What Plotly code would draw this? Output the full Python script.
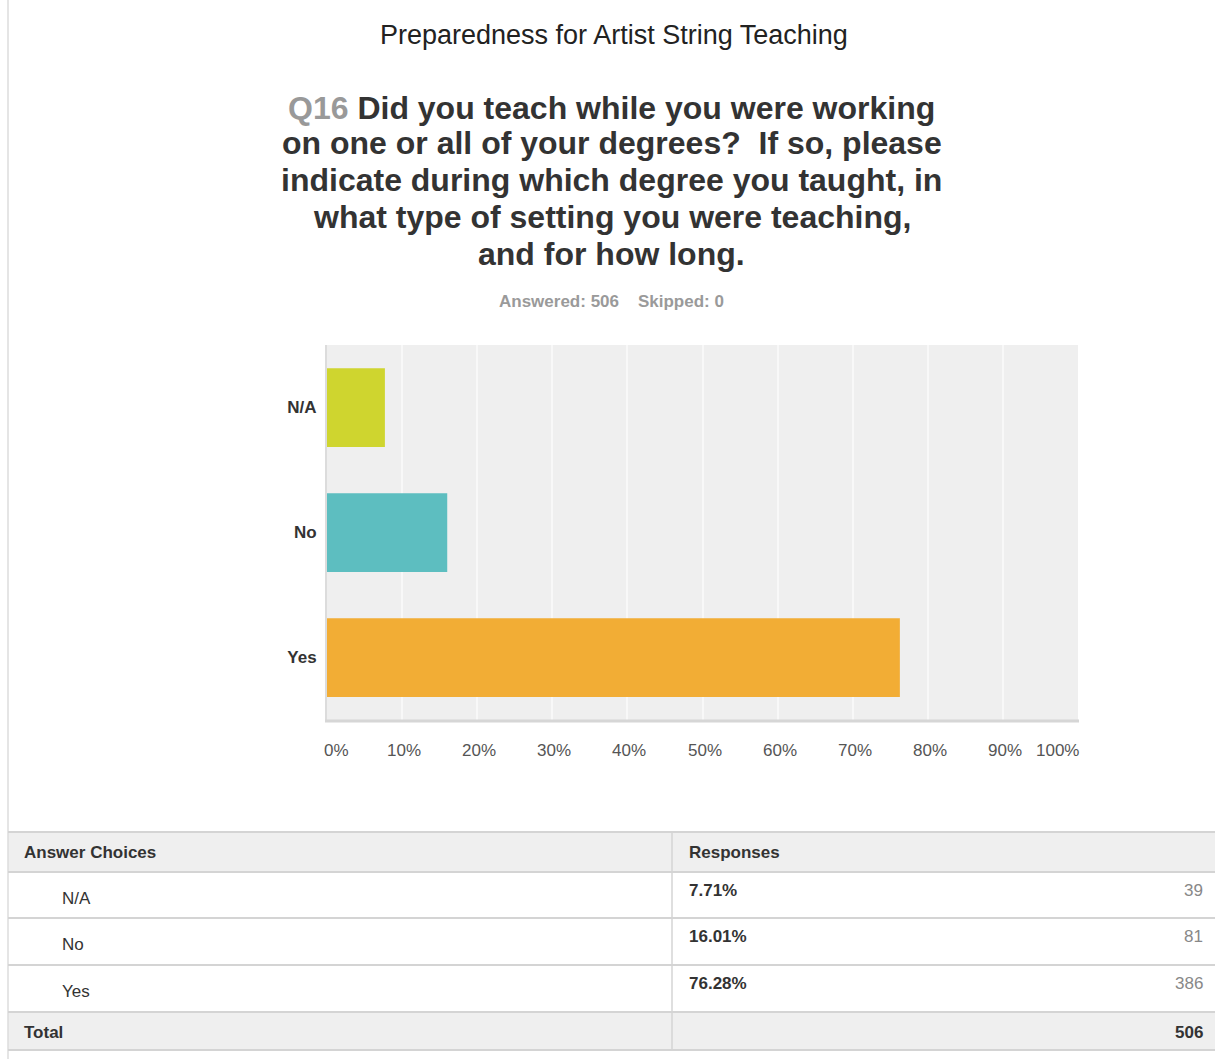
import plotly.graph_objects as go

# Survey results: Q16, teaching while working on a degree
categories = ["N/A", "No", "Yes"]
percentages = [7.71, 16.01, 76.28]
counts = [39, 81, 386]
total_answered = 506
total_skipped = 0
x_ticks = [0, 10, 20, 30, 40, 50, 60, 70, 80, 90, 100]
bar_colors = ["#cfd52f", "#5dbec0", "#f2ad35"]

W, H = 1215, 1059
FONT = "Liberation Sans"


def px(x):
    return x / W


def py(y):
    return 1 - y / H


fig = go.Figure()

fig.add_trace(go.Bar(
    x=percentages,
    y=categories,
    orientation="h",
    width=0.63,
    marker=dict(color=bar_colors, line=dict(width=0)),
    hoverinfo="x+y",
))

fig.update_layout(
    width=W,
    height=H,
    margin=dict(l=0, r=0, t=0, b=0),
    paper_bgcolor="white",
    plot_bgcolor="#efefef",
    showlegend=False,
    font=dict(family=FONT, color="#333"),
    xaxis=dict(
        domain=[px(327), px(1078)],
        range=[0, 100],
        tickvals=x_ticks,
        showticklabels=False,
        showgrid=True,
        gridcolor="#f8f8f8",
        gridwidth=1.5,
        zeroline=False,
        showline=False,
        fixedrange=True,
    ),
    yaxis=dict(
        domain=[py(720), py(345)],
        categoryorder="array",
        categoryarray=categories,
        autorange="reversed",
        showgrid=False,
        zeroline=False,
        showline=False,
        ticks="outside",
        ticklen=6,
        tickcolor="rgba(0,0,0,0)",
        tickfont=dict(family=FONT, size=17, color="#333", weight="bold"),
        fixedrange=True,
    ),
)

shapes = []
annotations = []

# Axis frame: light gray left edge and heavier bottom edge of the plot area
shapes.append(dict(type="line", xref="paper", yref="paper",
                   x0=px(326), x1=px(326), y0=py(721), y1=py(345),
                   line=dict(color="#dcdcdc", width=2)))
shapes.append(dict(type="line", xref="paper", yref="paper",
                   x0=px(325), x1=px(1079), y0=py(721), y1=py(721),
                   line=dict(color="#d6d6d6", width=3)))

# Percent tick labels under the plot
shift = {0: 9, 100: -21}
for v in x_ticks:
    annotations.append(dict(
        x=v, xref="x", y=py(750), yref="paper",
        text=f"{v}%", showarrow=False, xanchor="center", yanchor="middle",
        xshift=shift.get(v, 2),
        font=dict(family=FONT, size=17, color="#555"),
    ))

# Page left rule
shapes.append(dict(type="line", xref="paper", yref="paper",
                   x0=px(8), x1=px(8), y0=0, y1=1,
                   line=dict(color="#dddddd", width=1.5)))

# Titles
annotations.append(dict(
    x=px(614), y=py(35), xref="paper", yref="paper",
    text="Preparedness for Artist String Teaching", showarrow=False,
    xanchor="center", yanchor="middle",
    font=dict(family=FONT, size=27, color="#222"),
))

question_lines = [
    "<span style='color:#999'>Q16</span> Did you teach while you were working",
    "on one or all of your degrees?  If so, please",
    "indicate during which degree you taught, in",
    "what type of setting you were teaching,",
    "and for how long.",
]
line_y = [108, 143, 180, 217, 254]
for txt, yy in zip(question_lines, line_y):
    annotations.append(dict(
        x=px(612), y=py(yy), xref="paper", yref="paper",
        text=f"<b>{txt}</b>", showarrow=False,
        xanchor="center", yanchor="middle",
        font=dict(family=FONT, size=32, color="#333"),
    ))

annotations.append(dict(
    x=px(612), y=py(301), xref="paper", yref="paper",
    text=f"<b>Answered: {total_answered}&nbsp;&nbsp;&nbsp;&nbsp;Skipped: {total_skipped}</b>",
    showarrow=False, xanchor="center", yanchor="middle",
    font=dict(family=FONT, size=17, color="#9a9a9a"),
))

# Summary table drawn below the chart
T_LEFT, T_RIGHT, T_SPLIT = 8, 1215, 672
row_edges = [832, 872, 918, 965, 1012, 1050]
gray_fill = "#efefef"
rule = "#d4d4d4"

# header and total row backgrounds
for y0, y1 in [(row_edges[0], row_edges[1]), (row_edges[4], row_edges[5])]:
    shapes.append(dict(type="rect", xref="paper", yref="paper", layer="below",
                       x0=px(T_LEFT), x1=px(T_RIGHT), y0=py(y1), y1=py(y0),
                       fillcolor=gray_fill, line=dict(width=0)))
for ye in row_edges:
    shapes.append(dict(type="line", xref="paper", yref="paper",
                       x0=px(T_LEFT), x1=px(T_RIGHT), y0=py(ye), y1=py(ye),
                       line=dict(color=rule, width=2)))
shapes.append(dict(type="line", xref="paper", yref="paper",
                   x0=px(T_SPLIT), x1=px(T_SPLIT), y0=py(row_edges[-1]), y1=py(row_edges[0]),
                   line=dict(color=rule, width=1.5)))


def cell(x, y, text, anchor="left", color="#333", bold=False):
    annotations.append(dict(
        x=px(x), y=py(y), xref="paper", yref="paper",
        text=f"<b>{text}</b>" if bold else text, showarrow=False,
        xanchor=anchor, yanchor="middle",
        font=dict(family=FONT, size=17, color=color),
    ))


cell(22, 852, "Answer Choices", bold=True)
cell(687, 852, "Responses", bold=True)
for i, (cat, pct, n) in enumerate(zip(categories, percentages, counts)):
    top = row_edges[i + 1]
    cell(60, top + 26, cat)
    cell(687, top + 18, f"{pct:.2f}%", bold=True)
    cell(1205, top + 18, str(n), anchor="right", color="#888")
cell(22, 1032, "Total", bold=True)
cell(1205, 1032, str(sum(counts)), anchor="right", bold=True)

fig.update_layout(shapes=shapes, annotations=annotations)

fig.write_html("out.html")
